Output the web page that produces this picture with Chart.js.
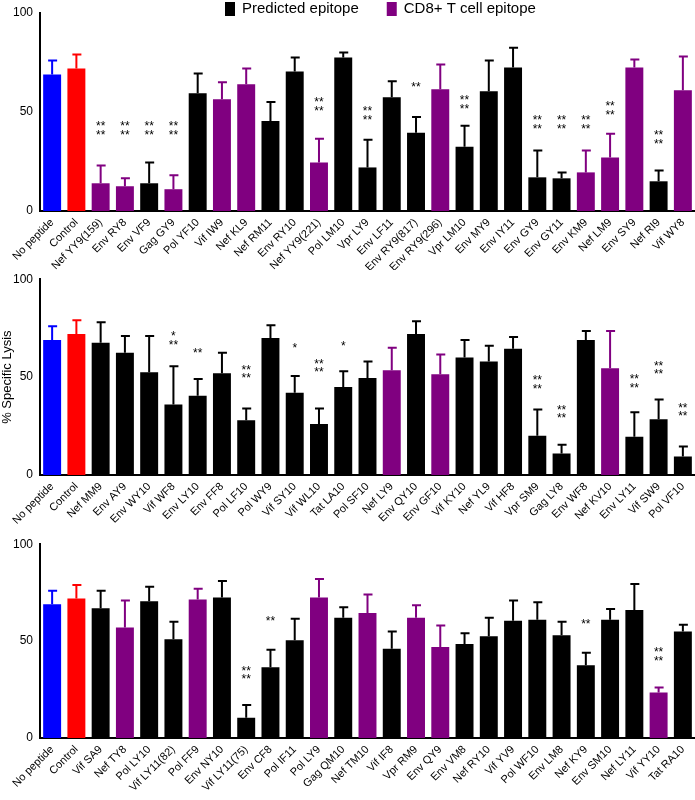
<!DOCTYPE html>
<html><head><meta charset="utf-8">
<script src="https://cdn.jsdelivr.net/npm/chart.js@4/dist/chart.umd.min.js"></script>
<style>body{margin:0;background:#fff;width:695px;height:800px;position:relative;overflow:hidden}
.c{position:absolute;left:0;width:695px}</style></head><body>
<div class="c" style="top:0;height:270px"><canvas id="c1"></canvas></div>
<div class="c" style="top:270px;height:265px"><canvas id="c2"></canvas></div>
<div class="c" style="top:535px;height:265px"><canvas id="c3"></canvas></div>
<script>
// N = no peptide, C = control, B = predicted epitope, P = CD8+ T cell epitope
const labels1=["No peptide","Control","Nef YY9(159)","Env RY8","Env VF9","Gag GY9","Pol YF10","Vif IW9","Nef KL9","Nef RM11","Env RY10","Nef YY9(221)","Pol LM10","Vpr LY9","Env LF11","Env RY9(817)","Env RY9(296)","Vpr LM10","Env MY9","Env IY11","Env GY9","Env GY11","Env KM9","Nef LM9","Env SY9","Nef RI9","Vif WY8"];
const values1=[69,72,14,12.5,14,11,59.5,56.5,64,45.5,70.5,24.5,77.5,22,57.5,39.5,61.5,32.5,60.5,72.5,17,16.5,19.5,27,72.5,15,61];
const errors1=[7,7,9,4,10.5,7,10,8.5,8,9.5,7,12,2.5,14,8,8,12.5,10.5,15.5,10,13.5,3,11,12,4,5.5,17];
const types1=["N","C","P","P","B","P","B","P","P","B","B","P","B","B","B","B","P","B","B","B","B","B","P","P","P","B","P"];
const stars1=["","","**/**","**/**","**/**","**/**","","","","","","**/**","","**/**","","**","","**/**","","","**/**","**/**","**/**","**/**","","**/**",""];
const starY1=[0,0,44,44,44,44,0,0,0,0,0,56,0,51.5,0,64,0,57,0,0,47,47,47,54,0,39.5,0];

const labels2=["No peptide","Control","Nef MM9","Env AY9","Env WY10","Vif WF8","Env LY10","Env FF8","Pol LF10","Pol WY9","Vif SY10","Vif WL10","Tat LA10","Pol SF10","Nef LY9","Env QY10","Env GF10","Vif KY10","Nef YL9","Vif HF8","Vpr SM9","Gag LY8","Env WF8","Nef KV10","Env LY11","Vif SW9","Pol VF10"];
const values2=[69,72,67.5,62.5,52.5,36,40.5,52,28,70,42,26,45,49.5,53.5,72,51.5,60,58,64.5,20,11,69,54.5,19.5,28.5,9.5];
const errors2=[7,7,10.5,8.5,18.5,19.5,8.5,10.5,6,6.5,8.5,8,8,8.5,11.5,6.5,10,9,8,6,13.5,4.5,4.5,19,12.5,10,5];
const types2=["N","C","B","B","B","B","B","B","B","B","B","B","B","B","P","B","P","B","B","B","B","B","B","P","B","B","B"];
const stars2=["","","","","","*/**","**","","**/**","","*","**/**","*","","","","","","","","**/**","**/**","","","**/**","**/**","**/**"];
const starY2=[0,0,0,0,0,72,63.5,0,55,0,66,58,67,0,0,0,0,0,0,0,49.5,34.5,0,0,50,57,35.5];

const labels3=["No peptide","Control","Vif SA9","Nef TY8","Pol LY10","Vif LY11(82)","Pol FF9","Env NY10","Vif LY11(75)","Env CF8","Pol IF11","Pol LY9","Gag QM10","Nef TM10","Vif IF8","Vpr RM9","Env QY9","Env VM8","Nef RY10","Vif YV9","Pol WF10","Env LM8","Nef KY9","Env SM10","Nef LY11","Vif YY10","Tat RA10"];
const values3=[69,72,67,57,70.5,51,71.5,72.5,10.5,36.5,50.5,72.5,62,64.5,46,62,47,48.5,52.5,60.5,61,53,37.5,61,66,23.5,55];
const errors3=[7,7,9,14,7.5,9,5.5,8.5,6.5,9,11,9.5,5.5,9.5,9,6.5,11,5.5,9.5,10.5,9,7,6.5,5.5,13.5,2.5,3.5];
const types3=["N","C","B","P","B","B","P","B","B","B","B","P","B","P","B","P","P","B","B","B","B","B","B","B","B","P","B"];
const stars3=["","","","","","","","","**/**","**","","","","","","","","","","","","","**","","","**/**",""];
const starY3=[0,0,0,0,0,0,0,0,36,61.5,0,0,0,0,0,0,0,0,0,0,0,0,60,0,0,45.5,0];

const yTicks=[0,50,100];
const legendItems=[["Predicted epitope","B"],["CD8+ T cell epitope","P"]];
const COL={N:"#0000ff",C:"#ff0000",B:"#000000",P:"#800080"};
const FONT="'Liberation Sans', Arial, sans-serif";

const extras={id:"extras",afterDatasetsDraw(ch,a,opt){
  const {ctx}=ch;const x=ch.scales.x,y=ch.scales.y;const d=opt.d;
  const meta=ch.getDatasetMeta(0);
  ctx.save();
  d.values.forEach((v,i)=>{
    const bar=meta.data[i];const cx=bar.x;
    const top=y.getPixelForValue(v+d.errors[i]);const b=y.getPixelForValue(v);
    ctx.strokeStyle=COL[d.types[i]];ctx.lineWidth=2;
    ctx.beginPath();ctx.moveTo(cx,b);ctx.lineTo(cx,top);ctx.moveTo(cx-4,top);ctx.lineTo(cx+5,top);ctx.stroke();
    if(d.stars[i]){
      ctx.fillStyle="#000";ctx.font="12px "+FONT;ctx.textAlign="center";ctx.textBaseline="middle";
      d.stars[i].split("/").forEach((s,k)=>{
        ctx.fillText(s,cx,y.getPixelForValue(d.starY[i]-4.4*k)+3);
      });
    }
  });
  if(opt.legend){
    ctx.font="15px "+FONT;ctx.textBaseline="middle";ctx.textAlign="left";
    let xx=225;
    legendItems.forEach(([t,k])=>{
      ctx.fillStyle=COL[k];ctx.fillRect(xx,2,10,14);
      ctx.fillStyle="#000";ctx.fillText(t,xx+17,9);
      xx+=ctx.measureText(t).width+28+17;
    });
  }
  ctx.restore();
}};

function make(id,labels,values,errors,types,stars,starY,padTop,xh,legend,title){
  new Chart(document.getElementById(id),{type:"bar",
    data:{labels,datasets:[{data:values,backgroundColor:types.map(t=>COL[t]),barPercentage:0.74,categoryPercentage:1}]},
    options:{responsive:true,maintainAspectRatio:false,animation:false,
      layout:{padding:{top:padTop,right:0,left:0,bottom:0}},
      plugins:{legend:{display:false},tooltip:{enabled:false},
        extras:{d:{values,errors,types,stars,starY},legend}},
      scales:{
        x:{grid:{display:false,drawTicks:true,tickLength:4,tickColor:"#000"},border:{color:"#000",width:2},
          ticks:{color:"#000",font:{size:11,family:FONT},minRotation:45,maxRotation:45,autoSkip:false,padding:1},
          afterFit(s){s.height=xh;}},
        y:{min:0,max:100,grid:{display:false,drawTicks:true,tickLength:5,tickColor:"#000"},border:{color:"#000",width:2},
          afterBuildTicks(s){s.ticks=yTicks.map(v=>({value:v}));},
          ticks:{color:"#000",font:{size:12,family:FONT},padding:2},
          title:{display:!!title,text:title||"",color:"#000",font:{size:13,family:FONT},padding:0},
          afterFit(s){s.width=40;}}
      }},
    plugins:[extras]});
}
make("c1",labels1,values1,errors1,types1,stars1,starY1,13,59,true,null);
make("c2",labels2,values2,errors2,types2,stars2,starY2,8,60,false,"% Specific Lysis");
make("c3",labels3,values3,errors3,types3,stars3,starY3,5,62,false,null);
</script></body></html>
